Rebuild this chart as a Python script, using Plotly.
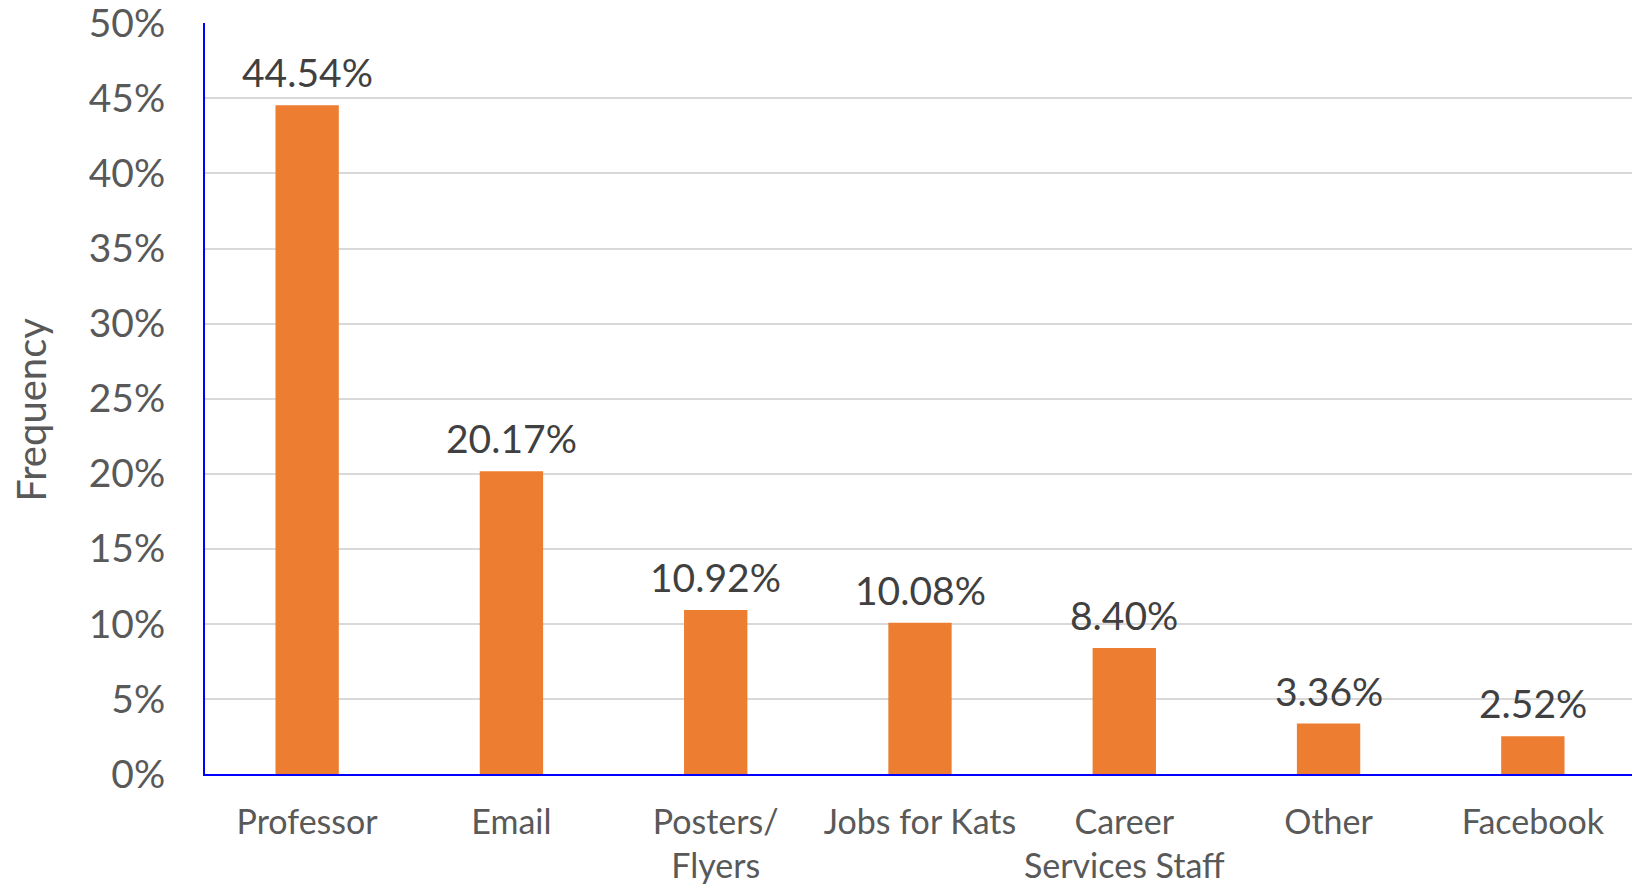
import plotly.graph_objects as go

categories = ["Professor", "Email", "Posters/<br>Flyers", "Jobs for Kats",
              "Career<br>Services Staff", "Other", "Facebook"]
values = [44.54, 20.17, 10.92, 10.08, 8.40, 3.36, 2.52]
labels = ["44.54%", "20.17%", "10.92%", "10.08%", "8.40%", "3.36%", "2.52%"]
y_ticks = [0, 5, 10, 15, 20, 25, 30, 35, 40, 45, 50]
y_ticklabels = [f"{v}%" for v in y_ticks]

FONT = "Lato"
# the page body adds an 8px offset, so the figure is 8px smaller
W, H = 1632, 877
L, R, T, B = 197, 5, 15, 111

fig = go.Figure()
fig.add_trace(go.Bar(
    x=categories, y=values,
    marker=dict(color="#ED7D31", line=dict(width=0)),
    width=0.31,
    hoverinfo="skip",
))
for c, v, t in zip(categories, values, labels):
    fig.add_annotation(x=c, y=v, text=t, showarrow=False, yanchor="bottom",
                       yshift=8, font=dict(family=FONT, size=39, color="#404040"))

fig.add_annotation(xref="paper", yref="paper",
                   x=-(L - 23) / (W - L - R), y=0.485,
                   text="Frequency", textangle=-90, showarrow=False,
                   xanchor="center", yanchor="middle",
                   font=dict(family=FONT, size=40, color="#595959"))

fig.update_layout(
    width=W, height=H,
    margin=dict(l=L, r=R, t=T, b=B),
    plot_bgcolor="white", paper_bgcolor="white",
    showlegend=False,
    font=dict(family=FONT, color="#595959"),
    xaxis=dict(
        showline=True, linecolor="#0000FF", linewidth=2,
        tickfont=dict(size=34, color="#595959"),
        ticks="", ticklabelstandoff=17,
        showgrid=False, automargin=False,
    ),
    yaxis=dict(
        range=[0, 50.02], tickvals=y_ticks, ticktext=y_ticklabels,
        showline=True, linecolor="#0000FF", linewidth=2,
        gridcolor="#D9D9D9", gridwidth=2,
        tickfont=dict(size=39, color="#595959"),
        ticks="", ticklabelstandoff=30, ticklabeloverflow="allow",
        zeroline=False, automargin=False,
    ),
)
fig.write_html("out.html")
